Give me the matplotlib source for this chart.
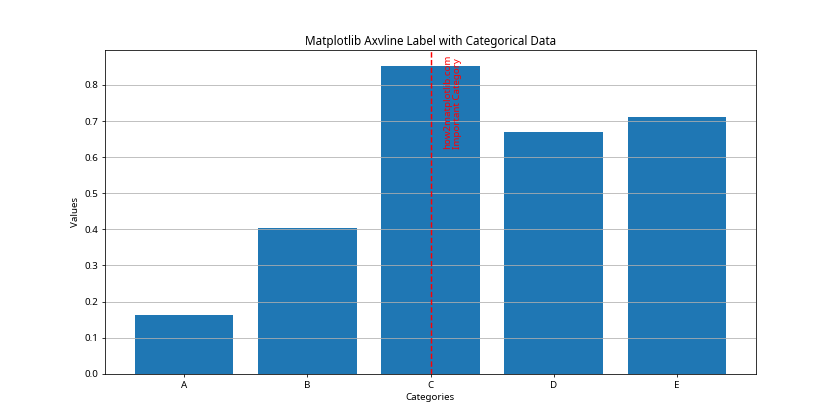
import matplotlib
matplotlib.use("Agg")
import matplotlib.pyplot as plt

plt.rcParams['font.family'] = ['Noto Sans', 'DejaVu Sans']
plt.rcParams['font.size'] = 10

categories = ['A', 'B', 'C', 'D', 'E']
values = [0.163, 0.404, 0.853, 0.670, 0.711]
label_text = 'how2matplotlib.com\nImportant Category'

fig, ax = plt.subplots(figsize=(12, 6), dpi=70)
ax.bar(categories, values)
ax.axvline(x='C', color='red', linestyle='--')
ax.text(2.1, ax.get_ylim()[1] * 0.7, label_text, rotation=90, color='red')
ax.set_title('Matplotlib Axvline Label with Categorical Data')
ax.set_xlabel('Categories')
ax.set_ylabel('Values')
ax.grid(axis='y')

plt.savefig('out.png')
